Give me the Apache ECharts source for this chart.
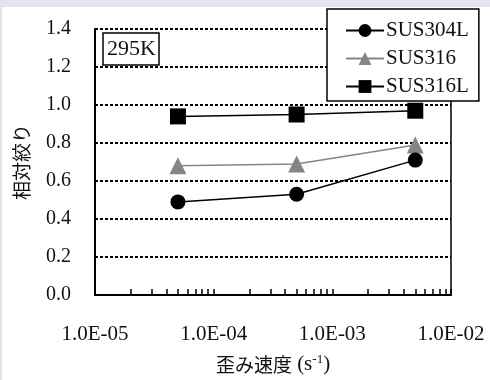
<!DOCTYPE html>
<html>
<head>
<meta charset="utf-8">
<script src="https://cdn.jsdelivr.net/npm/echarts@6/dist/echarts.min.js"></script>
<style>
html,body{margin:0;padding:0;background:#e7e2f0;width:490px;height:380px;overflow:hidden;}
#chart{position:absolute;left:2px;top:7px;width:488px;height:373px;background:#fff;}
</style>
</head>
<body>
<div id="chart"></div>
<script>
// ---- data ----
var strainRates = [5e-5, 5e-4, 5e-3];
var seriesNames = ['SUS304L', 'SUS316', 'SUS316L'];
var sus304L = [0.49, 0.53, 0.71];
var sus316 = [0.68, 0.69, 0.79];
var sus316L = [0.94, 0.95, 0.97];
var xTickValues = [1e-5, 1e-4, 1e-3, 1e-2];
var xTickLabels = ['1.0E-05', '1.0E-04', '1.0E-03', '1.0E-02'];
var xMinorMultipliers = [2, 3, 4, 5, 6, 7, 8, 9];
var tempLabel = '295K';
var yName = '相対絞り';
var xNameJa = '歪み速度';
var xNameUnit = ' (s';
var xNameSup = '-1';

function pairs(vals) { return strainRates.map(function (x, i) { return [x, vals[i]]; }); }

var tickVals = [];
xTickValues.forEach(function (d, i) {
  tickVals.push(d);
  if (i < xTickValues.length - 1) xMinorMultipliers.forEach(function (m) { tickVals.push(d * m); });
});

var serif = '"Liberation Serif", "Times New Roman", serif';
var cjk = '"Noto Sans CJK JP", sans-serif';
var textCol = '#111';

var chart = echarts.init(document.getElementById('chart'), null, {renderer: 'canvas'});
chart.setOption({
  animation: false,
  backgroundColor: '#fff',
  title: {
    text: tempLabel,
    left: 101, top: 26,
    padding: [5, 3, 5, 4],
    borderColor: '#000', borderWidth: 1.5,
    textStyle: {fontFamily: serif, fontSize: 22, fontWeight: 'normal', color: textCol}
  },
  legend: {
    data: seriesNames,
    orient: 'vertical',
    left: 325, top: 2,
    padding: [11, 10, 4, 18],
    itemGap: 7,
    itemWidth: 38, itemHeight: 16,
    backgroundColor: '#fff',
    borderColor: '#000', borderWidth: 1.5,
    textStyle: {fontFamily: serif, fontSize: 21, color: textCol, padding: [0, 0, 0, -3]}
  },
  grid: {left: 93, right: 39, top: 22, bottom: 82, containLabel: false},
  xAxis: {
    type: 'log', logBase: 10, min: 1e-5, max: 1e-2,
    name: '{m|' + xNameJa + '}{u|' + xNameUnit + '}{s|' + xNameSup + '}{u|)}',
    nameLocation: 'middle', nameGap: 58,
    nameTextStyle: {
      rich: {
        m: {fontFamily: cjk, fontSize: 19, color: textCol},
        u: {fontFamily: serif, fontSize: 21, color: textCol},
        s: {fontFamily: serif, fontSize: 13, color: textCol, verticalAlign: 'top', padding: [0, 0, 10, 0]}
      }
    },
    axisLine: {show: true, lineStyle: {color: '#000', width: 2}},
    axisTick: {show: true, inside: true, length: 6, customValues: tickVals, lineStyle: {color: '#000', width: 1.5}},
    axisLabel: {
      customValues: xTickValues,
      margin: 29,
      fontFamily: serif, fontSize: 21, color: textCol,
      formatter: function (v) {
        var e = Math.round(Math.log10(v));
        var idx = xTickValues.findIndex(function (t) { return Math.round(Math.log10(t)) === e; });
        return idx >= 0 ? xTickLabels[idx] : '';
      }
    },
    splitLine: {show: false},
    minorTick: {show: false}
  },
  yAxis: [{
    type: 'value', min: 0, max: 1.4, interval: 0.2,
    name: yName,
    nameLocation: 'middle', nameGap: 64, nameRotate: 90,
    nameTextStyle: {fontFamily: cjk, fontSize: 19, color: textCol},
    axisLine: {show: true, lineStyle: {color: '#000', width: 2}},
    axisTick: {show: false},
    axisLabel: {
      margin: 24, fontFamily: serif, fontSize: 20, color: textCol,
      formatter: function (v) { return v.toFixed(1); }
    },
    splitLine: {show: true, lineStyle: {color: '#000', width: 1.8, type: [3, 2]}}
  }, {
    type: 'value', min: 0, max: 1.4, interval: 0.2, position: 'right',
    axisLine: {show: true, lineStyle: {color: '#000', width: 1.5}},
    axisTick: {show: false}, axisLabel: {show: false}, splitLine: {show: false}
  }],
  series: [{
    name: 'SUS304L', type: 'line', data: pairs(sus304L),
    symbol: 'circle', symbolSize: 15,
    itemStyle: {color: '#000'}, lineStyle: {color: '#000', width: 1.5}, z: 4
  }, {
    name: 'SUS316', type: 'line', data: pairs(sus316),
    symbol: 'triangle', symbolSize: 17,
    itemStyle: {color: '#858585'}, lineStyle: {color: '#858585', width: 1.5}, z: 3
  }, {
    name: 'SUS316L', type: 'line', data: pairs(sus316L),
    symbol: 'rect', symbolSize: 16,
    itemStyle: {color: '#000'}, lineStyle: {color: '#000', width: 1.5}, z: 3
  }]
});
</script>
</body>
</html>
